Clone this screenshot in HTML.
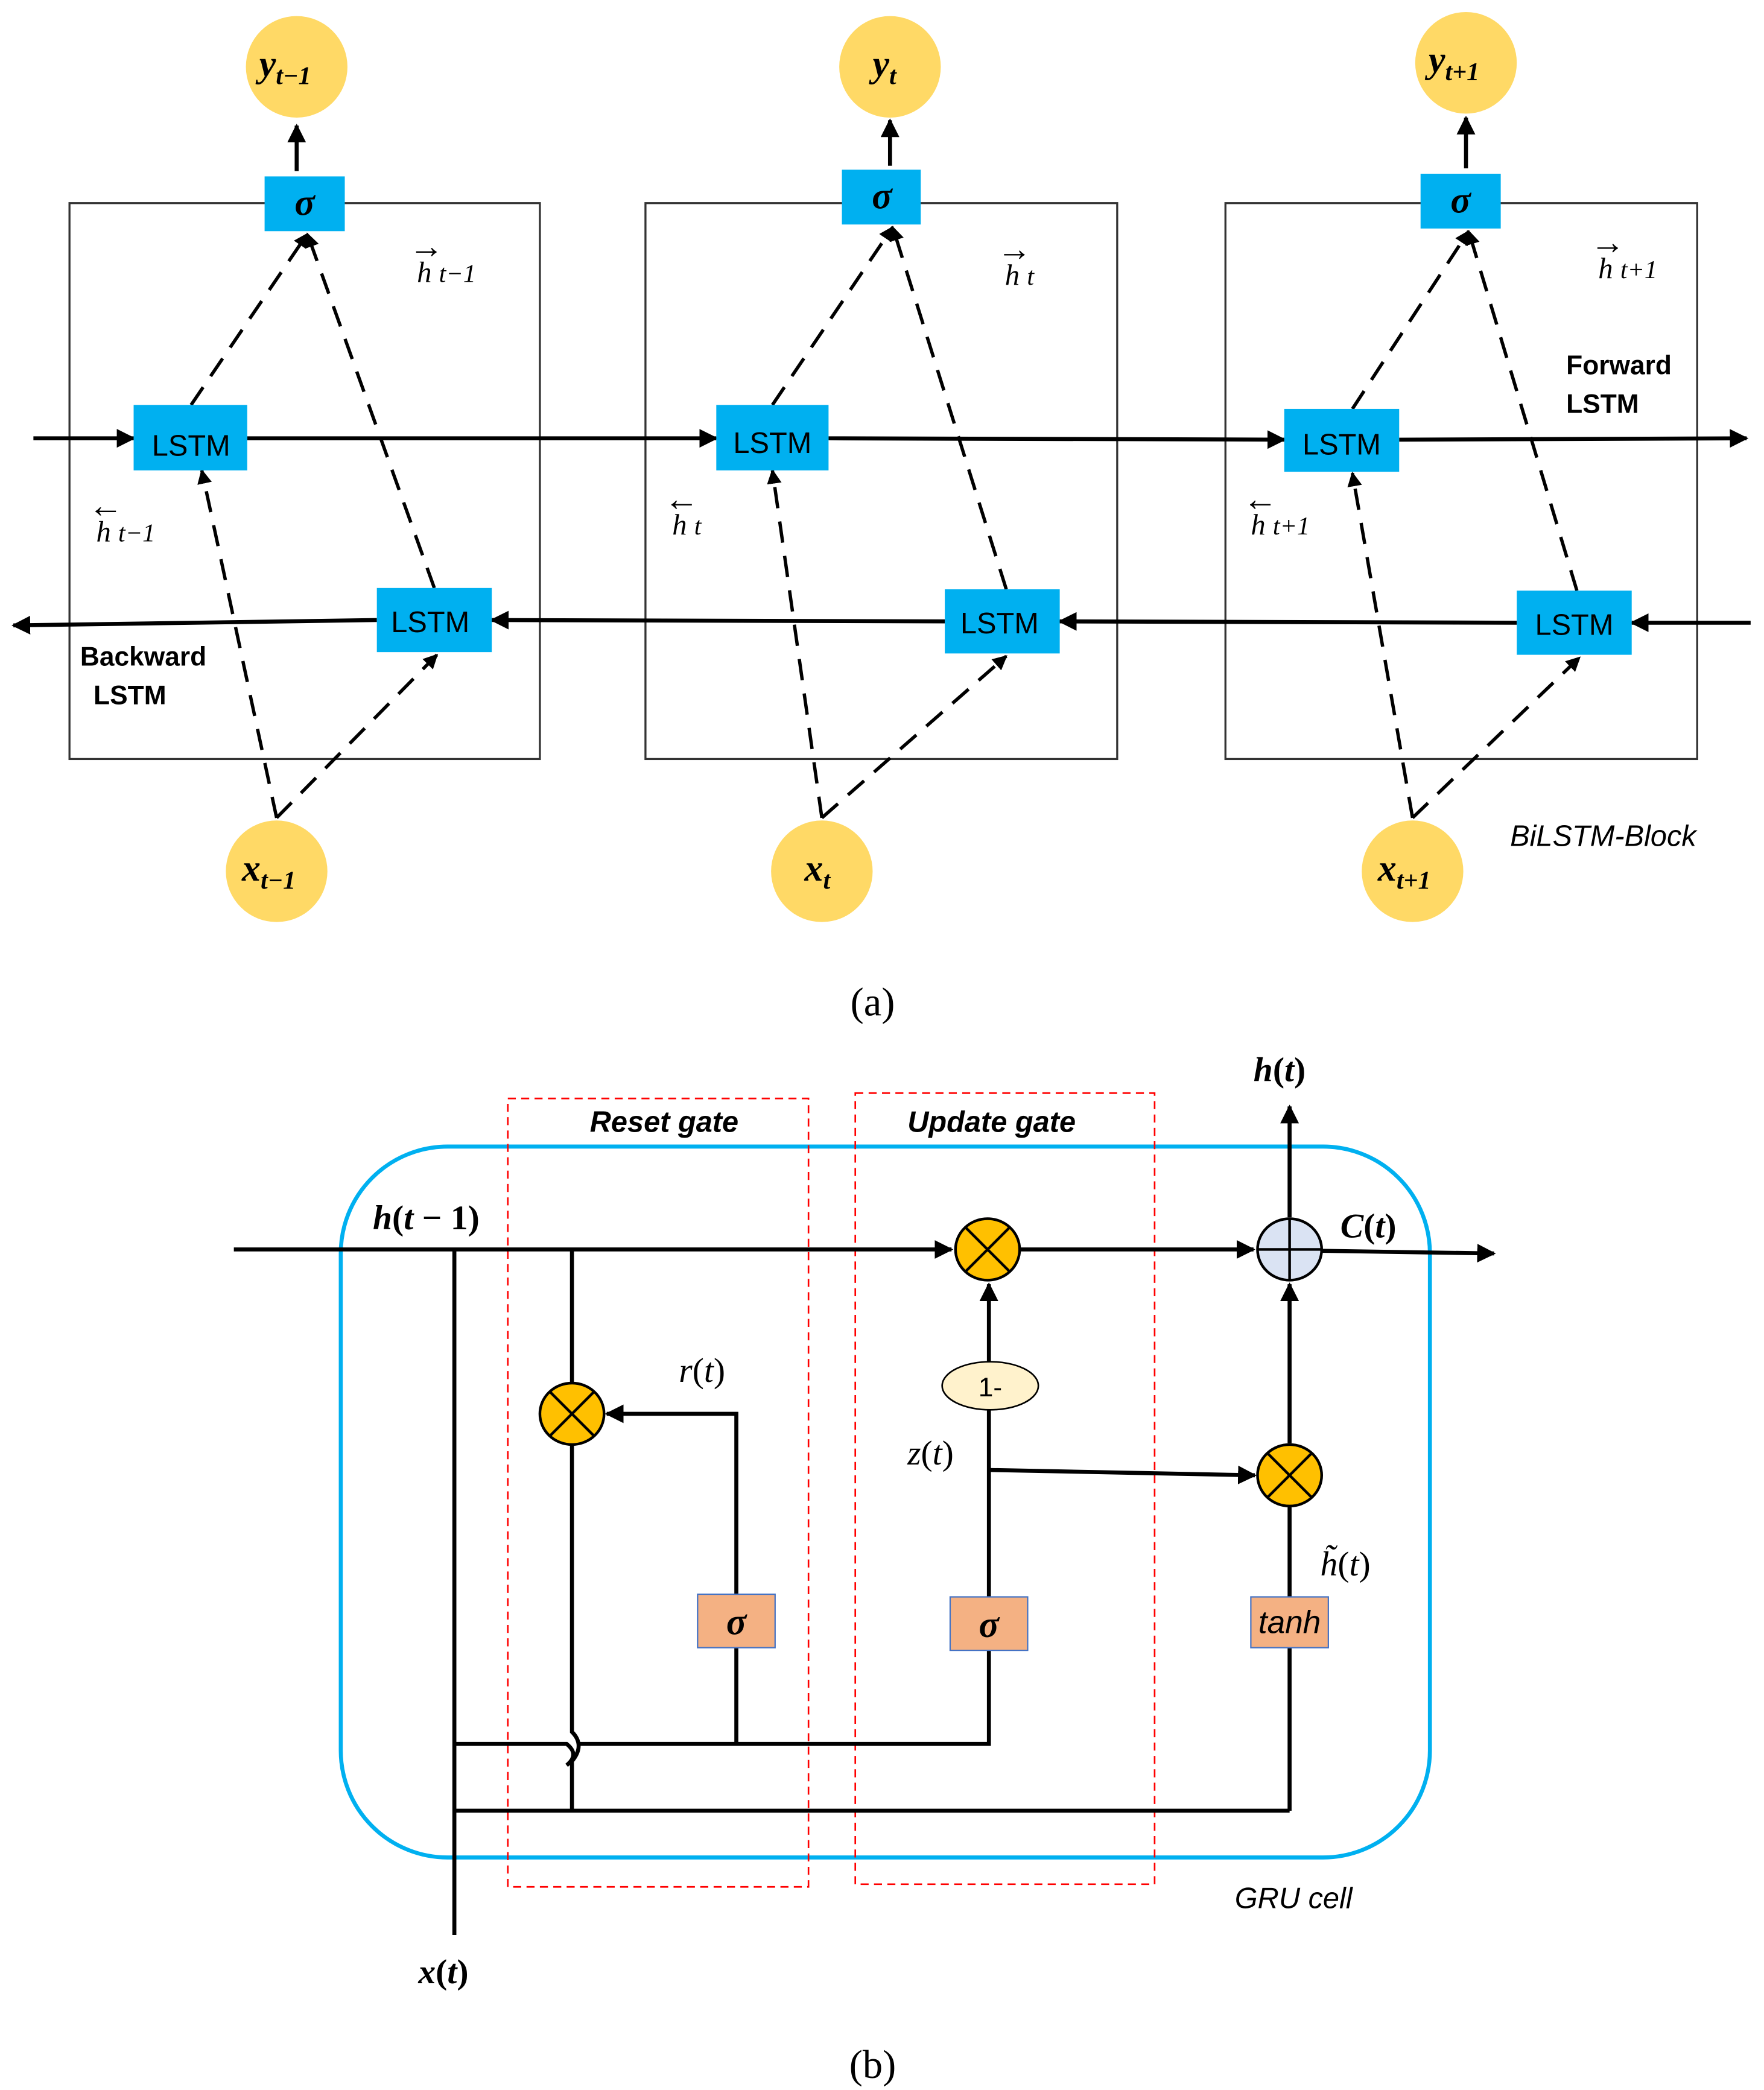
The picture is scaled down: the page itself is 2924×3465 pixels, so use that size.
<!DOCTYPE html>
<html><head><meta charset="utf-8"><style>
html,body{margin:0;padding:0;background:#fff;}
svg{display:block;}
.s{font-family:"Liberation Sans",sans-serif;}
.m{font-family:"Liberation Serif",serif;font-style:italic;}
</style></head><body>
<svg width="2924" height="3465" viewBox="0 0 1320 1564" preserveAspectRatio="none" xmlns="http://www.w3.org/2000/svg">
<defs>
<marker id="b" viewBox="0 0 10 10" refX="9" refY="5" markerWidth="14" markerHeight="14" orient="auto" markerUnits="userSpaceOnUse"><path d="M0,0L10,5L0,10z" fill="#000"/></marker>
<marker id="c" viewBox="0 0 10 10" refX="9" refY="5" markerWidth="11" markerHeight="11" orient="auto" markerUnits="userSpaceOnUse"><path d="M0,0L10,5L0,10z" fill="#000"/></marker>
</defs>
<rect width="1320" height="1564" fill="#fff"/>
<g fill="none" stroke="#333" stroke-width="1.5">
<rect x="52" y="152" width="352" height="416"/>
<rect x="483" y="152" width="353" height="416"/>
<rect x="917" y="152" width="353" height="416"/>
</g>
<g stroke="#000" stroke-width="3" fill="none" marker-end="url(#b)">
<line x1="25" y1="328" x2="100" y2="328"/>
<line x1="185" y1="328" x2="536" y2="328"/>
<line x1="620" y1="328" x2="961" y2="329"/>
<line x1="1047" y1="329" x2="1307" y2="328"/>
<line x1="1310" y1="466" x2="1221" y2="466"/>
<line x1="1135" y1="466" x2="793" y2="465"/>
<line x1="707" y1="465" x2="368" y2="464"/>
<line x1="282" y1="464" x2="10" y2="468"/>
<line x1="222" y1="128" x2="222" y2="94"/>
<line x1="666" y1="124" x2="666" y2="90"/>
<line x1="1097" y1="126" x2="1097" y2="88"/>
</g>
<g stroke="#000" stroke-width="2.5" fill="none" stroke-dasharray="16,10" marker-end="url(#c)">
<line x1="143" y1="303" x2="230" y2="175"/>
<line x1="325" y1="440" x2="230" y2="175"/>
<line x1="207" y1="612" x2="151" y2="352"/>
<line x1="207" y1="612" x2="327" y2="490"/>
<line x1="578" y1="303" x2="668" y2="170"/>
<line x1="753" y1="441" x2="668" y2="170"/>
<line x1="615" y1="612" x2="578" y2="352"/>
<line x1="615" y1="612" x2="753" y2="491"/>
<line x1="1012" y1="306" x2="1099" y2="173"/>
<line x1="1180" y1="442" x2="1099" y2="173"/>
<line x1="1057" y1="612" x2="1012" y2="354"/>
<line x1="1057" y1="612" x2="1182" y2="492"/>
</g>
<g fill="#00B0F0">
<rect x="198" y="132" width="60" height="41"/>
<rect x="630" y="127" width="59" height="41"/>
<rect x="1063" y="130" width="60" height="41"/>
<rect x="100" y="303" width="85" height="49"/>
<rect x="536" y="303" width="84" height="49"/>
<rect x="961" y="306" width="86" height="47"/>
<rect x="282" y="440" width="86" height="48"/>
<rect x="707" y="441" width="86" height="48"/>
<rect x="1135" y="442" width="86" height="48"/>
</g>
<g class="s" font-size="22" text-anchor="middle" fill="#000">
<text x="143" y="341">LSTM</text><text x="578" y="339">LSTM</text><text x="1004" y="340">LSTM</text>
<text x="322" y="473">LSTM</text><text x="748" y="474">LSTM</text><text x="1178" y="475">LSTM</text>
</g>
<g class="m" font-weight="bold" font-size="28" text-anchor="middle">
<text x="228" y="161">σ</text><text x="660" y="156">σ</text><text x="1093" y="159">σ</text>
</g>
<g fill="#FFD966">
<circle cx="222" cy="50" r="38"/><circle cx="666" cy="50" r="38"/><circle cx="1097" cy="47" r="38"/>
<circle cx="207" cy="652" r="38"/><circle cx="615" cy="652" r="38"/><circle cx="1057" cy="652" r="38"/>
</g>
<g class="m" font-weight="bold" font-size="28">
<text x="194" y="57">y<tspan font-size="19" dy="6">t−1</tspan></text>
<text x="653" y="57">y<tspan font-size="19" dy="6">t</tspan></text>
<text x="1069" y="54">y<tspan font-size="19" dy="6">t+1</tspan></text>
<text x="181" y="659">x<tspan font-size="19" dy="6">t−1</tspan></text>
<text x="602" y="659">x<tspan font-size="19" dy="6">t</tspan></text>
<text x="1031" y="659">x<tspan font-size="19" dy="6">t+1</tspan></text>
</g>
<g class="m" font-size="22">
<text x="312" y="211">h <tspan font-size="19">t−1</tspan></text><text x="306" y="193" font-style="normal" font-size="26">→</text>
<text x="752" y="213">h <tspan font-size="19">t</tspan></text><text x="746" y="195" font-style="normal" font-size="26">→</text>
<text x="1196" y="208">h <tspan font-size="19">t+1</tspan></text><text x="1190" y="190" font-style="normal" font-size="26">→</text>
<text x="72" y="405">h <tspan font-size="19">t−1</tspan></text><text x="66" y="387" font-style="normal" font-size="26">←</text>
<text x="503" y="400">h <tspan font-size="19">t</tspan></text><text x="497" y="382" font-style="normal" font-size="26">←</text>
<text x="936" y="400">h <tspan font-size="19">t+1</tspan></text><text x="930" y="382" font-style="normal" font-size="26">←</text>
</g>
<g class="s" font-weight="bold" font-size="20">
<text x="1172" y="280">Forward</text><text x="1172" y="309">LSTM</text>
<text x="60" y="498">Backward</text><text x="70" y="527">LSTM</text>
</g>
<text x="1130" y="633" class="s" font-style="italic" font-size="22">BiLSTM-Block</text>
<text x="653" y="760" font-family="Liberation Serif,serif" font-size="30" text-anchor="middle">(a)</text>

<rect x="255" y="858" width="815" height="532" rx="80" fill="none" stroke="#00B0F0" stroke-width="3"/>
<g fill="none" stroke="#F00" stroke-width="1.2" stroke-dasharray="6,4">
<rect x="380" y="822" width="225" height="590"/>
<rect x="640" y="818" width="224" height="592"/>
</g>
<g stroke="#000" stroke-width="3" fill="none">
<line x1="175" y1="935" x2="712" y2="935" marker-end="url(#b)"/>
<line x1="763" y1="935" x2="938" y2="935" marker-end="url(#b)"/>
<line x1="989" y1="936" x2="1118" y2="938" marker-end="url(#b)"/>
<line x1="965" y1="911" x2="965" y2="828" marker-end="url(#b)"/>
<line x1="340" y1="935" x2="340" y2="1448"/>
<path d="M340,1305 H424 q10,8 0,16 M433,1305 H740 V1235"/>
<path d="M428,935 V1296 q10,10 0,22 V1355"/>
<line x1="340" y1="1355" x2="965" y2="1355"/>
<line x1="965" y1="1355" x2="965" y2="1233"/>
<line x1="551" y1="1305" x2="551" y2="1233"/>
<path d="M551,1193 V1058 H454" marker-end="url(#b)"/>
<line x1="740" y1="1195" x2="740" y2="1055"/>
<line x1="740" y1="1019" x2="740" y2="961" marker-end="url(#b)"/>
<line x1="740" y1="1100" x2="939" y2="1104" marker-end="url(#b)"/>
<line x1="965" y1="1195" x2="965" y2="1128"/>
<line x1="965" y1="1080" x2="965" y2="961" marker-end="url(#b)"/>
</g>
<g stroke="#000" stroke-width="2">
<ellipse cx="739" cy="935" rx="24" ry="23" fill="#FFC000"/>
<path d="M722,918L756,952M756,918L722,952"/>
<ellipse cx="428" cy="1058" rx="24" ry="23" fill="#FFC000"/>
<path d="M411,1041L445,1075M445,1041L411,1075"/>
<ellipse cx="965" cy="1104" rx="24" ry="23" fill="#FFC000"/>
<path d="M948,1087L982,1121M982,1087L948,1121"/>
<ellipse cx="965" cy="935" rx="24" ry="23" fill="#DAE3F3"/>
<path d="M941,935H989M965,912V958"/>
<ellipse cx="741" cy="1037" rx="36" ry="18" fill="#FFF2CC" stroke-width="1.2"/>
</g>
<g fill="#F4B183" stroke="#4472C4" stroke-width="1">
<rect x="522" y="1193" width="58" height="40"/>
<rect x="711" y="1195" width="58" height="40"/>
<rect x="936" y="1195" width="58" height="38"/>
</g>
<g class="m" font-weight="bold" font-size="28" text-anchor="middle">
<text x="551" y="1223">σ</text><text x="740" y="1225">σ</text>
</g>
<text x="965" y="1222" class="s" font-style="italic" font-size="24" text-anchor="middle">tanh</text>
<text x="741" y="1045" class="s" font-size="20" text-anchor="middle">1-</text>
<g class="s" font-weight="bold" font-style="italic" font-size="22" text-anchor="middle">
<text x="497" y="847">Reset gate</text><text x="742" y="847">Update gate</text>
</g>
<g font-family="Liberation Serif,serif" font-size="26">
<text x="938" y="809" font-weight="bold"><tspan font-style="italic">h</tspan>(<tspan font-style="italic">t</tspan>)</text>
<text x="279" y="920" font-weight="bold"><tspan font-style="italic">h</tspan>(<tspan font-style="italic">t</tspan> − 1)</text>
<text x="1003" y="926" font-weight="bold"><tspan font-style="italic">C</tspan>(<tspan font-style="italic">t</tspan>)</text>
<text x="508" y="1034"><tspan font-style="italic">r</tspan>(<tspan font-style="italic">t</tspan>)</text>
<text x="679" y="1096"><tspan font-style="italic">z</tspan>(<tspan font-style="italic">t</tspan>)</text>
<text x="988" y="1179"><tspan font-style="italic">h̃</tspan>(<tspan font-style="italic">t</tspan>)</text>
<text x="313" y="1484" font-weight="bold"><tspan font-style="italic">x</tspan>(<tspan font-style="italic">t</tspan>)</text>
</g>
<text x="924" y="1428" class="s" font-style="italic" font-size="22">GRU cell</text>
<text x="653" y="1555" font-family="Liberation Serif,serif" font-size="30" text-anchor="middle">(b)</text>
</svg>
</body></html>
